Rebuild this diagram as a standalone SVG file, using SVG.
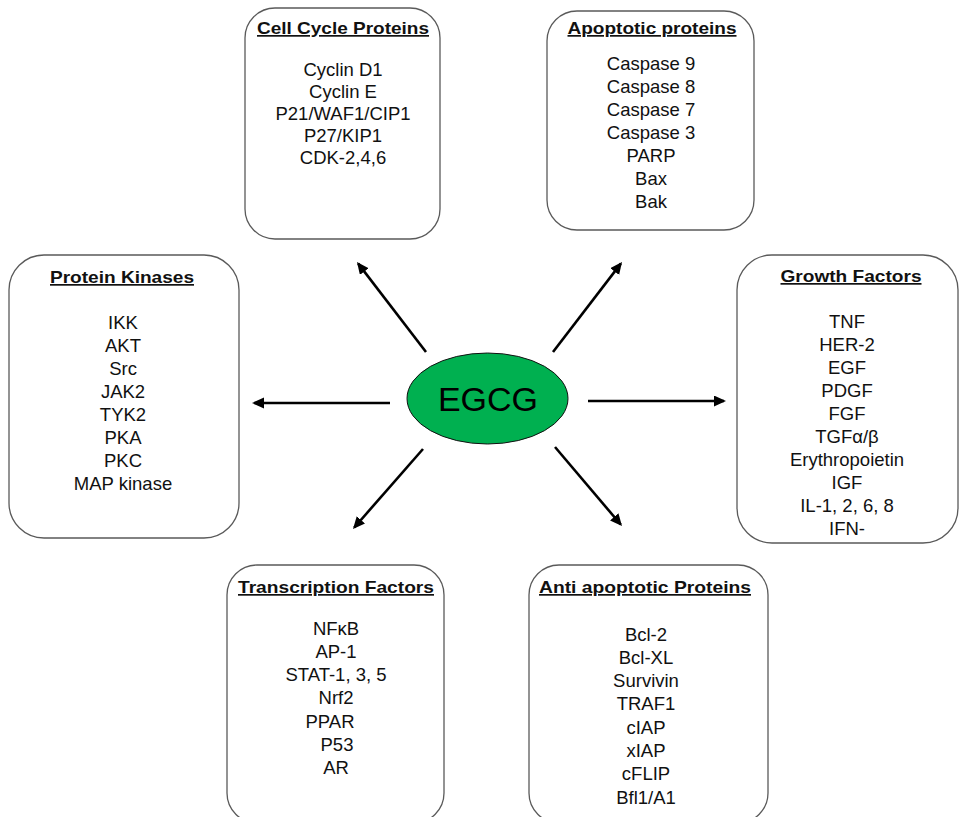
<svg xmlns="http://www.w3.org/2000/svg" width="959" height="817" viewBox="0 0 959 817">
<style>
.box{fill:#fff;stroke:#5a5a5a;stroke-width:1.3}
.t{font-family:"Liberation Sans",Arial,sans-serif;font-size:17px;font-weight:bold;text-anchor:middle;text-decoration:underline;fill:#111}
.i{font-family:"Liberation Sans",Arial,sans-serif;font-size:18.5px;text-anchor:middle;fill:#111}
.a{stroke:#000;stroke-width:2.6;fill:none;marker-end:url(#ah)}
</style>
<defs>
<marker id="ah" markerUnits="userSpaceOnUse" markerWidth="14" markerHeight="12" refX="10" refY="5.5" orient="auto">
<path d="M0,0 L12,5.5 L0,11 Z" fill="#000"/>
</marker>
</defs>
<rect width="959" height="817" fill="#fff"/>
<g id="connectors">
<line class="a" x1="426" y1="352" x2="358.2" y2="263.6"/>
<line class="a" x1="553" y1="352" x2="620.8" y2="263.6"/>
<line class="a" x1="390" y1="403" x2="254" y2="403"/>
<line class="a" x1="588" y1="401" x2="724" y2="401"/>
<line class="a" x1="423" y1="449" x2="354.3" y2="527.5"/>
<line class="a" x1="555" y1="447" x2="620.7" y2="524.5"/>
</g>
<g id="egcg">
<ellipse cx="487.5" cy="398.5" rx="80.5" ry="45.5" fill="#00b050" stroke="#111" stroke-width="1"/>
<text x="488" y="411" font-family="'Liberation Sans',Arial,sans-serif" font-size="34" text-anchor="middle" fill="#000">EGCG</text>
</g>
<g id="cell-cycle">
<rect class="box" x="245" y="8" width="195" height="231" rx="30"/>
<text class="t" x="343" y="34" textLength="172" lengthAdjust="spacingAndGlyphs">Cell Cycle Proteins</text>
<text class="i" x="343" y="75.5">Cyclin D1</text>
<text class="i" x="343" y="97.5">Cyclin E</text>
<text class="i" x="343" y="119.5">P21/WAF1/CIP1</text>
<text class="i" x="343" y="141.5">P27/KIP1</text>
<text class="i" x="343" y="163.5">CDK-2,4,6</text>
</g>
<g id="apoptotic">
<rect class="box" x="547" y="11" width="207" height="219" rx="30"/>
<text class="t" x="652" y="34" textLength="169" lengthAdjust="spacingAndGlyphs">Apoptotic proteins</text>
<text class="i" x="651" y="69.5">Caspase 9</text>
<text class="i" x="651" y="92.5">Caspase 8</text>
<text class="i" x="651" y="115.5">Caspase 7</text>
<text class="i" x="651" y="138.5">Caspase 3</text>
<text class="i" x="651" y="161.5">PARP</text>
<text class="i" x="651" y="184.5">Bax</text>
<text class="i" x="651" y="207.5">Bak</text>
</g>
<g id="protein-kinases">
<rect class="box" x="9" y="255" width="230" height="283" rx="35"/>
<text class="t" x="122" y="283" textLength="144" lengthAdjust="spacingAndGlyphs">Protein Kinases</text>
<text class="i" x="123" y="328.5">IKK</text>
<text class="i" x="123" y="351.6">AKT</text>
<text class="i" x="123" y="374.7">Src</text>
<text class="i" x="123" y="397.8">JAK2</text>
<text class="i" x="123" y="420.9">TYK2</text>
<text class="i" x="123" y="444">PKA</text>
<text class="i" x="123" y="467.1">PKC</text>
<text class="i" x="123" y="490.2">MAP kinase</text>
</g>
<g id="growth-factors">
<rect class="box" x="737" y="255" width="221" height="288" rx="35"/>
<text class="t" x="851" y="282" textLength="141" lengthAdjust="spacingAndGlyphs">Growth Factors</text>
<text class="i" x="847" y="327.5">TNF</text>
<text class="i" x="847" y="350.6">HER-2</text>
<text class="i" x="847" y="373.7">EGF</text>
<text class="i" x="847" y="396.8">PDGF</text>
<text class="i" x="847" y="419.9">FGF</text>
<text class="i" x="847" y="443">TGFα/β</text>
<text class="i" x="847" y="466.1">Erythropoietin</text>
<text class="i" x="847" y="489.2">IGF</text>
<text class="i" x="847" y="512.3">IL-1, 2, 6, 8</text>
<text class="i" x="847" y="535.4">IFN-</text>
</g>
<g id="transcription-factors">
<rect class="box" x="227" y="565" width="217" height="258" rx="30"/>
<text class="t" x="336" y="593" textLength="196" lengthAdjust="spacingAndGlyphs">Transcription Factors</text>
<text class="i" x="336" y="634.5">NFκB</text>
<text class="i" x="336" y="657.8">AP-1</text>
<text class="i" x="336" y="681.1">STAT-1, 3, 5</text>
<text class="i" x="336" y="704.4">Nrf2</text>
<text class="i" x="330" y="727.7">PPAR</text>
<text class="i" x="337" y="751">P53</text>
<text class="i" x="336" y="774.3">AR</text>
</g>
<g id="anti-apoptotic">
<rect class="box" x="529" y="565" width="239" height="258" rx="30"/>
<text class="t" x="645" y="593" textLength="212" lengthAdjust="spacingAndGlyphs">Anti apoptotic Proteins</text>
<text class="i" x="646" y="640.5">Bcl-2</text>
<text class="i" x="646" y="663.8">Bcl-XL</text>
<text class="i" x="646" y="687.1">Survivin</text>
<text class="i" x="646" y="710.4">TRAF1</text>
<text class="i" x="646" y="733.7">cIAP</text>
<text class="i" x="646" y="757">xIAP</text>
<text class="i" x="646" y="780.3">cFLIP</text>
<text class="i" x="646" y="803.6">Bfl1/A1</text>
</g>
</svg>
